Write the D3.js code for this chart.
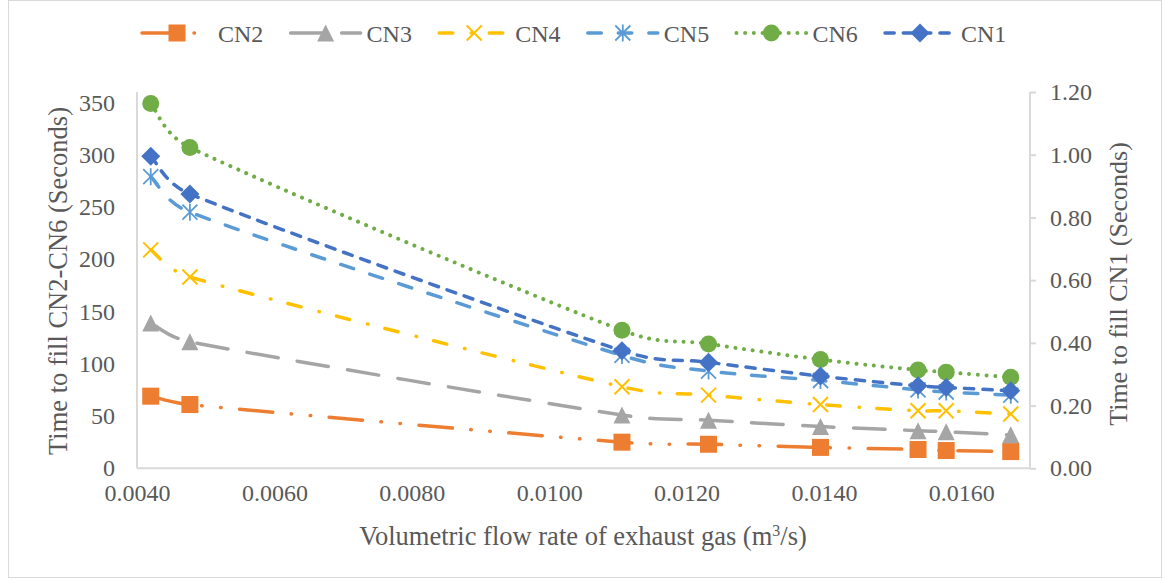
<!DOCTYPE html>
<html>
<head>
<meta charset="utf-8">
<script src="https://cdn.jsdelivr.net/npm/d3@7/dist/d3.min.js"></script>
<style>
  html, body { margin: 0; padding: 0; background: #fff; }
  svg { display: block; }
  text { font-family: "Liberation Serif", "Times New Roman", serif; fill: #595959; }
</style>
</head>
<body>
<svg id="chart" width="1165" height="580"></svg>
<script>
// Volumetric flow rate of exhaust gas (m3/s)
const flowRate = [0.0042, 0.00477, 0.01106, 0.01232, 0.01395, 0.01537, 0.01578, 0.01672];

// Time to fill (seconds); CN2–CN6 on the left axis, CN1 on the right axis
const cn2 = [69, 61, 25, 23, 20, 18, 17, 16];
const cn3 = [139, 121, 51, 46, 40, 36, 35, 32];
const cn4 = [209, 183, 78, 70, 61, 55, 55, 52];
const cn5 = [279, 245, 108, 93, 84, 75, 73, 70];
const cn6 = [349, 307, 132, 119, 104, 94, 92, 87];
const cn1 = [0.995, 0.875, 0.375, 0.338, 0.294, 0.263, 0.258, 0.247];

const seriesNames = ["CN2", "CN3", "CN4", "CN5", "CN6", "CN1"];

const xTicks = [0.004, 0.006, 0.008, 0.010, 0.012, 0.014, 0.016];
const leftTicks = [0, 50, 100, 150, 200, 250, 300, 350];
const rightTicks = [0, 0.2, 0.4, 0.6, 0.8, 1.0, 1.2];

const xTitle = "Volumetric flow rate of exhaust gas (m";
const leftTitle = "Time to fill CN2-CN6 (Seconds)";
const rightTitle = "Time to fill CN1 (Seconds)";

// ---- layout & styling ----
const svg = d3.select("#chart");
const plot = { left: 137, right: 1030, top: 92, bottom: 468.3 };
const axisColor = "#D9D9D9";

const x = d3.scaleLinear().domain([0.004, 0.017]).range([plot.left, plot.right]);
const yL = d3.scaleLinear().domain([0, 360]).range([plot.bottom, plot.top]);
const yR = d3.scaleLinear().domain([0, 1.2]).range([plot.bottom, plot.top]);

const styles = {
  CN2: { color: "#ED7D31", dash: "33.5,18.5,0.5,18.5,0.5,18.5", width: 3.5, marker: "square" },
  CN3: { color: "#A5A5A5", dash: "31.5,19.5", width: 3.5, marker: "triangle" },
  CN4: { color: "#FFC000", dash: "13.5,18.5,0.5,17.5", width: 3.5, marker: "x" },
  CN5: { color: "#5B9BD5", dash: "13.5,17", width: 3.5, marker: "star" },
  CN6: { color: "#70AD47", dash: "0.01,8.7", width: 4, marker: "circle" },
  CN1: { color: "#4472C4", dash: "9.2,9.1", width: 3.5, marker: "diamond" }
};

const series = [
  { name: "CN2", values: cn2, y: yL },
  { name: "CN3", values: cn3, y: yL },
  { name: "CN4", values: cn4, y: yL },
  { name: "CN5", values: cn5, y: yL },
  { name: "CN6", values: cn6, y: yL },
  { name: "CN1", values: cn1, y: yR }
];

// Smoothed line: Bezier segments whose tangents follow the neighbouring
// points (uniform Catmull-Rom direction), with control arms limited to
// half of each segment so short segments do not loop.
function smoothCurve(context) {
  let pts = [];
  return {
    areaStart() {}, areaEnd() {},
    lineStart() { pts = []; },
    point(px, py) { pts.push([+px, +py]); },
    lineEnd() {
      const n = pts.length;
      if (!n) return;
      context.moveTo(pts[0][0], pts[0][1]);
      if (n === 1) return;
      const tang = pts.map((p, i) => {
        const a = pts[Math.max(0, i - 1)], b = pts[Math.min(n - 1, i + 1)];
        return [(b[0] - a[0]) / 6, (b[1] - a[1]) / 6];
      });
      for (let i = 0; i < n - 1; i++) {
        const p0 = pts[i], p1 = pts[i + 1];
        const L = Math.hypot(p1[0] - p0[0], p1[1] - p0[1]);
        const arm = t => {
          const len = Math.hypot(t[0], t[1]);
          const k = len > 0.5 * L ? (0.5 * L) / len : 1;
          return [t[0] * k, t[1] * k];
        };
        const a0 = arm(tang[i]), a1 = arm(tang[i + 1]);
        context.bezierCurveTo(p0[0] + a0[0], p0[1] + a0[1], p1[0] - a1[0], p1[1] - a1[1], p1[0], p1[1]);
      }
    }
  };
}

// chart border
svg.append("rect")
  .attr("x", 8.5).attr("y", 0.5).attr("width", 1153).attr("height", 577)
  .attr("fill", "none").attr("stroke", axisColor).attr("stroke-width", 1);

// axes
const gx = svg.append("g").attr("transform", `translate(0,${plot.bottom})`)
  .call(d3.axisBottom(x).tickValues(xTicks).tickFormat(d3.format(".4f")).tickSize(0).tickPadding(16));
const gl = svg.append("g").attr("transform", `translate(${plot.left},0)`)
  .call(d3.axisLeft(yL).tickValues(leftTicks).tickFormat(d3.format("d")).tickSize(0).tickPadding(22));
const gr = svg.append("g").attr("transform", `translate(${plot.right},0)`)
  .call(d3.axisRight(yR).tickValues(rightTicks).tickFormat(d3.format(".2f")).tickSize(6).tickPadding(14));

[gx, gl, gr].forEach(g => {
  g.select(".domain").attr("stroke", axisColor).attr("stroke-width", 2);
  g.selectAll(".tick line").attr("stroke", axisColor).attr("stroke-width", 2);
  g.selectAll(".tick text").attr("fill", "#595959")
    .style("font-family", '"Liberation Serif", "Times New Roman", serif')
    .style("font-size", "24px");
});
gx.select(".domain").attr("d", `M${plot.left},0H${plot.right}`);
gl.select(".domain").attr("d", `M0,${plot.top}V${plot.bottom}`);
gr.select(".domain").attr("d", `M0,${plot.top}V${plot.bottom}`);

// axis titles
const xt = svg.append("text").attr("x", 583).attr("y", 545)
  .attr("text-anchor", "middle").style("font-size", "26.5px");
xt.append("tspan").text(xTitle);
xt.append("tspan").attr("dy", -9).style("font-size", "16px").text("3");
xt.append("tspan").attr("dy", 9).text("/s)");

svg.append("text")
  .attr("transform", "translate(67,281) rotate(-90)")
  .attr("text-anchor", "middle").style("font-size", "26.5px").text(leftTitle);
svg.append("text")
  .attr("transform", "translate(1127,284) rotate(-90)")
  .attr("text-anchor", "middle").style("font-size", "26px").text(rightTitle);

// markers
function drawMarker(g, type, color, cx, cy) {
  const s = 8.5;
  if (type === "square") {
    g.append("rect").attr("x", cx - s).attr("y", cy - s).attr("width", 2 * s).attr("height", 2 * s)
      .attr("fill", color);
  } else if (type === "triangle") {
    g.append("path").attr("d", `M${cx},${cy - s}L${cx + s},${cy + s}L${cx - s},${cy + s}Z`)
      .attr("fill", color);
  } else if (type === "x") {
    const r = 7.5;
    g.append("path").attr("d", `M${cx - r},${cy - r}L${cx + r},${cy + r}M${cx - r},${cy + r}L${cx + r},${cy - r}`)
      .attr("stroke", color).attr("stroke-width", 2).attr("fill", "none");
  } else if (type === "star") {
    const r = 7.5;
    g.append("path").attr("d", `M${cx - r},${cy - r}L${cx + r},${cy + r}M${cx - r},${cy + r}L${cx + r},${cy - r}M${cx},${cy - r - 1}V${cy + r + 1}`)
      .attr("stroke", color).attr("stroke-width", 1.8).attr("fill", "none");
  } else if (type === "circle") {
    g.append("circle").attr("cx", cx).attr("cy", cy).attr("r", s).attr("fill", color);
  } else if (type === "diamond") {
    const r = 9.5;
    g.append("path").attr("d", `M${cx},${cy - r}L${cx + r},${cy}L${cx},${cy + r}L${cx - r},${cy}Z`)
      .attr("fill", color);
  }
}

// series lines (smoothed) and markers
series.forEach(s => {
  const st = styles[s.name];
  const g = svg.append("g").attr("class", "series");
  const line = d3.line()
    .x((d, i) => x(flowRate[i]))
    .y(d => s.y(d))
    .curve(smoothCurve);
  g.append("path").datum(s.values)
    .attr("d", line)
    .attr("fill", "none")
    .attr("stroke", st.color)
    .attr("stroke-width", st.width)
    .attr("stroke-dasharray", st.dash)
    .attr("stroke-linecap", "round");
  s.values.forEach((v, i) => drawMarker(g, st.marker, st.color, x(flowRate[i]), s.y(v)));
});

// legend
const legend = svg.append("g");
seriesNames.forEach((name, i) => {
  const st = styles[name];
  const x0 = 142 + i * 148.6;
  const ly = 33;
  legend.append("path").attr("d", `M${x0},${ly}H${x0 + 70}`)
    .attr("stroke", st.color).attr("stroke-width", st.width)
    .attr("stroke-dasharray", st.dash).attr("stroke-linecap", "round").attr("fill", "none");
  drawMarker(legend, st.marker, st.color, x0 + 35, ly);
  legend.append("text").attr("x", x0 + 76).attr("y", ly + 8.5)
    .style("font-size", "24px").text(name);
});
</script>
</body>
</html>
